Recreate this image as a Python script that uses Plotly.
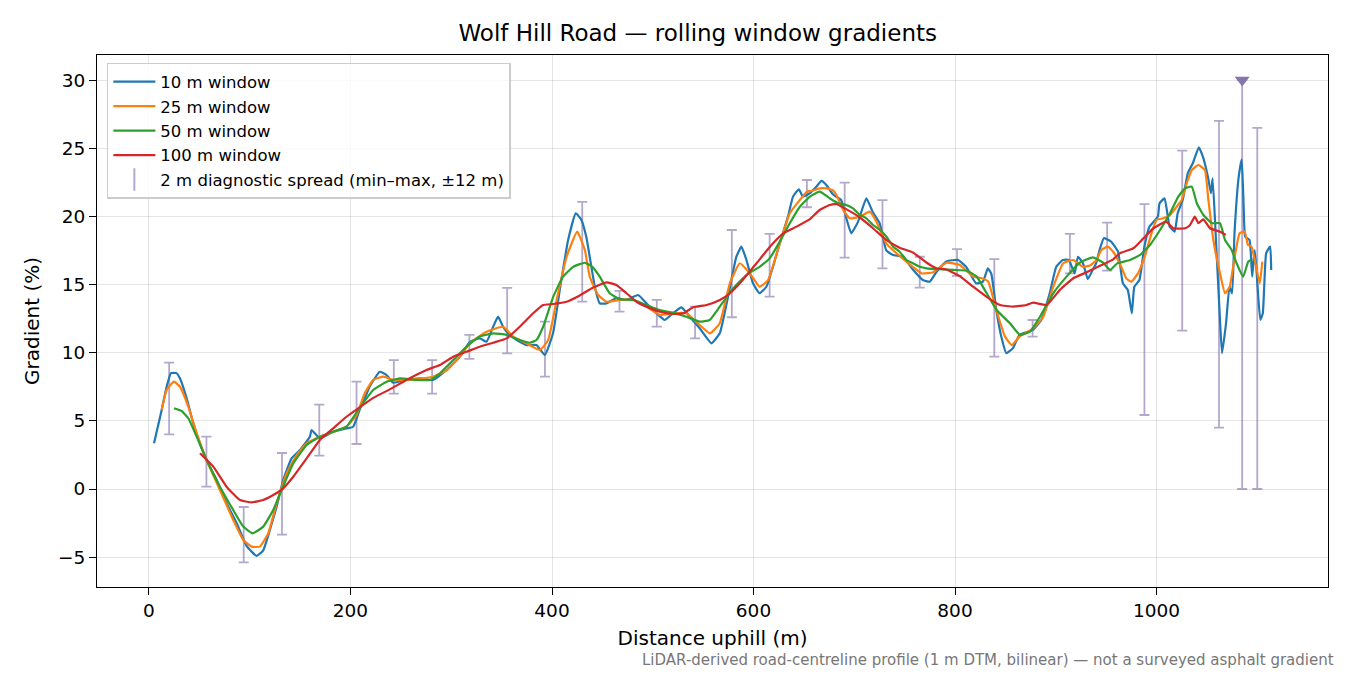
import plotly.graph_objects as go

# distance uphill (m) and gradient (%) for each rolling window
w10_x = [5, 12.6, 17.5, 21.8, 27.4, 30.8, 37.4, 44, 50.6, 57.2, 67.2, 77, 87, 97, 106.8, 113.4, 120,
         126.7, 133.2, 141.5, 149.8, 159.7, 161.4, 169.6, 182.8, 196, 202.7, 210, 215, 219, 229, 235.8,
         242.4, 255.6, 268.8, 282, 295.3, 308.5, 318.5, 328.4, 335, 341.6, 346.5, 351.5, 358, 368, 374.7,
         384.6, 392.9, 401, 407.7, 416, 423.6, 429.2, 434, 442.5, 447.4, 454, 464, 474, 485.4, 493.7,
         503.7, 511.9, 520, 528.5, 536.7, 546.6, 558.2, 566.5, 574.7, 583, 588, 593, 599.5, 606, 612.8,
         619.3, 626, 634.2, 639.2, 645, 649, 656, 662.4, 667.4, 672.3, 679, 687, 692, 697, 703.7, 712,
         718.5, 725.2, 731.8, 738.4, 748.3, 758.2, 768, 774.8, 781.4, 791.4, 803, 811, 821, 827.7, 832.6,
         836, 841, 845.9, 850.9, 857.4, 864, 877.3, 885.6, 894, 900.5, 907, 913, 918.7, 922, 927, 931.8,
         936.6, 940, 943.5, 947.7, 955, 961.8, 966.6, 971.5, 975.5, 978, 983, 988, 993, 1001.3, 1003,
         1008, 1013, 1018, 1021, 1026, 1031, 1036, 1042, 1046, 1051, 1054, 1055.7, 1059, 1062.5, 1065,
         1069, 1072.4, 1075, 1077.4, 1081.6, 1084.6, 1086.6, 1088, 1092.3, 1095, 1097.4, 1099, 1103,
         1105.5, 1108.8, 1112.8, 1113.8]
w10_y = [3.35, 5.8, 7.5, 8.5, 8.5, 8.1, 6.65, 4.8, 3.35, 2.1, 0.66, -1.05, -2.5, -4.2, -4.9, -4.5, -3.0,
         -1.3, 0.66, 2.25, 2.86, 3.84, 4.33, 3.72, 4.2, 4.45, 4.57, 6.0, 6.8, 7.5, 8.6, 8.36,
         7.8, 8.0, 8.12, 8.0, 8.73, 9.71, 10.8, 11.05, 10.8, 11.9, 12.64, 11.9, 11.3, 10.8, 10.56,
         10.56, 9.83, 11.42, 14.6, 18.27, 20.23, 19.74, 18.5, 14.84, 13.62, 13.62, 14.0, 13.87, 14.23, 13.62,
         12.89, 12.4, 12.89, 13.33, 12.64, 11.79, 10.69, 11.42, 14.1, 17.04, 17.78, 16.8, 15.09, 14.36, 14.84,
         16.3, 18.0, 19.98, 21.45, 21.99, 21.45, 21.7, 22.18, 22.6, 22.3, 21.6, 21.2, 19.9, 18.76, 19.6, 21.33,
         20.3, 19.5, 17.5, 17.17, 17.04, 16.1, 15.33, 15.21, 15.9, 16.7, 16.8, 16.3, 15.09, 15.21, 16.19,
         15.8, 13.13, 11.18, 9.96, 10.32, 11.3, 11.67, 12.4, 14.36, 16.3, 16.8, 16.8, 15.82, 17.04, 16.56, 15.4,
         16.07, 16.56, 17.53, 18.4, 18.14, 17.41, 15.09, 14.6, 12.89, 14.84, 15.33, 17.78, 19.25, 19.98, 20.96,
         21.33, 19.25, 18.88, 20.23, 21.2, 23.16, 23.9, 25.07, 24.38, 22.91, 21.7, 22.79, 18.27, 13.13, 9.96,
         12.16, 14.84, 14.36, 18.76, 22.91, 24.19, 20.47, 18.51, 18.27, 15.58, 17.53, 16.3, 12.4,
         12.89, 17.29, 17.78, 16.07]

w25_x = [12.6, 17.5, 24.8, 30.8, 39, 47.3, 57.2, 70.4, 83.6, 93.6, 101.9, 110, 118.4, 126.7, 136.6, 146.6,
         156.5, 169.7, 182.9, 196, 206, 214, 222.6, 232.6, 242.4, 255.6, 268.8, 282, 295.3, 308.5, 318.5,
         335, 351.5, 361.6, 374.7, 388, 396.2, 404.6, 414.5, 425, 432.6, 437.5, 445.8, 454, 467.3, 480.5,
         493.7, 507, 520, 533.4, 546.6, 556.8, 566.5, 576.5, 586.4, 596.3, 606, 614.5, 626, 636, 646, 653,
         659, 665.7, 672.3, 679, 682.3, 689, 695.6, 705.6, 715.5, 722, 731.8, 745, 758.2, 766.7, 778.5,
         791.4, 804.8, 818, 826.5, 833, 841, 849.6, 856.3, 864, 877.5, 887.6, 897.5, 907.4, 917.4, 927, 934,
         940.5, 945.2, 951.8, 957.5, 965, 970, 975, 981.6, 988.3, 995, 1000, 1006.6, 1013.4, 1020, 1025,
         1030, 1035, 1041.6, 1048, 1051.5, 1056.4, 1063, 1068, 1072.6, 1077.6, 1082.5, 1087.5, 1090.8,
         1094.2, 1097.5, 1102.5, 1105]
w25_y = [5.8, 7.26, 7.87, 7.5, 6.04, 4.09, 2.13, -0.07, -2.27, -3.74, -4.23, -4.23, -3.25, -1.05, 1.15, 2.49,
         3.35, 3.84, 4.2, 4.57, 5.43, 7.0, 8.0, 8.24, 8.0, 8.0, 8.1, 8.24, 8.7, 9.7, 10.69,
         11.54, 11.9, 11.18, 10.69, 10.2, 10.93, 13.87, 17.04, 18.88, 17.53, 15.58, 14.23, 13.74, 13.87, 13.87,
         13.38, 12.77, 12.89, 12.89, 12.03, 11.42, 12.16, 15.09, 16.56, 15.82, 14.84, 15.33, 18.0, 20.23, 21.2, 21.81,
         21.9, 22.06, 22.06, 21.9, 21.57, 20.47, 19.86, 19.98, 20.35, 19.61, 18.0, 17.1, 16.3, 15.82, 15.9,
         16.6, 16.43, 15.58, 15.46, 15.21, 13.13, 11.18, 10.56, 11.18, 11.79, 12.64, 14.84, 16.56, 16.8, 16.3, 16.4,
         16.8, 17.53, 17.78, 17.35, 16.3, 15.45, 15.21, 15.82, 17.04, 18.76, 19.74, 19.86, 20.1, 20.71, 21.2,
         22.43, 23.4, 23.77, 23.4, 21.2, 18.27, 15.82, 14.36, 14.84, 17.04, 18.76, 18.88, 17.9,
         17.78, 16.8, 15.09, 16.68]

w50_x = [24.8, 32.4, 39, 47.3, 57.2, 70.4, 83.6, 93.6, 102.8, 113.4, 123.3, 131.6, 143.2, 156.5, 169.7,
         182.8, 196, 207.7, 222.5, 236, 249, 265.7, 279, 288.8, 302, 315.3, 328.5, 341.6, 355, 368, 378,
         384.6, 391.2, 401.2, 411, 421, 432.6, 440, 447.4, 457.3, 467.3, 480.6, 493.7, 507, 520, 533.4,
         546.6, 556.5, 566.5, 579.7, 593, 606, 616, 626, 636, 646, 656, 665.7, 675.6, 684, 692, 698.7,
         705.6, 712, 718.6, 725.5, 732, 738.5, 745, 751.8, 758.2, 765, 771.8, 785, 798.4, 811.6, 821.5,
         831.4, 841.3, 854.5, 864.5, 874.4, 884.3, 897.5, 910.7, 923.8, 937, 947, 954, 961, 973.7, 983.6,
         993.5, 1003.5, 1013.4, 1021.6, 1028.3, 1035, 1040, 1046.5, 1054.9, 1063, 1068, 1074.6, 1079.5,
         1086, 1091, 1093.5]
w50_y = [5.92, 5.72, 5.19, 3.84, 2.13, 0.17, -1.54, -2.76, -3.25, -2.76, -1.54, -0.07, 1.88, 3.23, 3.84,
         4.2, 4.57, 5.8, 7.26, 7.87, 8.12, 8.0, 8.0, 8.49, 9.46, 10.44, 11.18, 11.42, 11.3, 10.93, 10.73,
         10.93, 11.9, 14.1, 15.58, 16.3, 16.6, 16.3, 15.58, 14.36, 13.92, 13.87, 13.5, 13.13, 12.94, 12.64,
         12.28, 12.4, 13.38, 14.72, 15.7, 16.3, 16.92, 18.14, 19.5, 20.71, 21.45, 21.81, 21.33, 20.96, 20.84, 20.59,
         20.1, 19.86, 19.37, 19.0, 18.51, 17.78, 17.41, 16.8, 16.56, 16.3, 16.19, 16.12, 16.07, 16.02, 15.58,
         14.36, 13.13, 12.16, 11.3, 11.54, 12.64, 14.36, 15.58, 16.6, 17.0, 16.6, 16.07, 16.55, 16.8, 17.17,
         17.9, 19.0, 20.23, 21.45, 22.06, 22.18, 20.96, 20.1, 19.5, 19.5, 18.27, 17.53, 16.56,
         15.58, 16.68, 16.8]

w100_x = [50.6, 63.8, 77, 90.3, 101.9, 113.4, 123.3, 131.6, 143.2, 156.5, 169.6, 182.8, 196, 207.7, 223,
          239, 255.6, 275.5, 288.8, 302, 315.3, 328.4, 341.6, 355, 368, 381.3, 391.2, 401, 414.4, 427.6,
          440.8, 454, 464, 474, 483.8, 493.7, 507, 520, 530.3, 540.2, 553.5, 566.6, 576.7, 586.4, 603,
          616.3, 629.5, 642.7, 656, 665.7, 675.6, 682.4, 692, 705.6, 718.6, 731.8, 745, 758.2, 771.6, 781.4,
          791.4, 805, 818, 831.4, 844.7, 857.9, 871, 877.5, 891, 904, 917.4, 930.6, 943.9, 957, 963.5, 977,
          987, 997, 1009.4, 1016.7, 1028.3, 1033.3, 1038, 1041.6, 1046.5, 1053, 1063, 1068.8]
w100_y = [2.62, 1.64, 0.17, -0.81, -0.98, -0.81, -0.44, -0.07, 0.9, 2.25, 3.6, 4.45, 5.3, 5.92, 6.7,
          7.31, 8.0, 8.73, 9.1, 9.71, 10.07, 10.44, 10.73, 11.05, 11.9, 12.89, 13.5, 13.57, 13.74, 14.2,
          14.78, 15.16, 14.97, 14.36, 13.74, 13.38, 13.01, 12.84, 12.89, 13.33, 13.5, 13.87, 14.36, 15.09, 16.56,
          17.78, 18.76, 19.25, 19.8, 20.47, 20.84, 20.89, 20.53, 19.92, 19.13, 18.27, 17.7, 17.35, 16.62, 16.19,
          16.1, 15.6, 14.84, 14.1, 13.5, 13.38, 13.5, 13.67, 13.5, 14.6, 15.46, 15.9, 16.37, 16.85, 17.29, 17.66,
          18.39, 19.13, 19.61, 19.13, 19.13, 19.37, 19.98, 19.5, 19.79, 19.13, 18.88, 18.64]

# 2 m diagnostic spread, min and max within +-12 m
spread_x = [20, 57, 94, 132, 169, 206, 243, 281, 318, 355.5, 393, 430, 467, 504, 542, 578.5, 616, 653,
            690.5, 728, 765, 802, 839, 877, 914, 951, 988, 1025.5, 1062, 1085, 1100]
spread_lo = [4.0, 0.17, -5.38, -3.35, 2.45, 3.3, 7.0, 7.0, 9.55, 9.95, 8.24, 13.74, 13.01, 11.91, 11.05,
             12.6, 14.11, 20.67, 16.97, 16.19, 14.77, 15.63, 9.71, 11.18, 15.82, 16.02, 5.43, 11.62, 4.5,
             0.0, 0.0]
spread_hi = [9.27, 3.84, -1.32, 2.64, 6.19, 7.87, 9.46, 9.46, 11.3, 14.75, 12.28, 21.06, 14.53, 13.87,
             13.38, 19.0, 18.71, 22.67, 22.48, 21.2, 17.04, 17.6, 16.87, 12.4, 18.71, 19.54, 20.9, 24.82,
             27.0, 30.0, 26.5]
clip_top = 30.0

series = [
    ("10 m window", w10_x, w10_y, "#1f77b4"),
    ("25 m window", w25_x, w25_y, "#ff7f0e"),
    ("50 m window", w50_x, w50_y, "#2ca02c"),
    ("100 m window", w100_x, w100_y, "#d62728"),
]

spread_col = "rgba(128,110,170,0.6)"

fig = go.Figure()

mid = [(a + b) / 2 for a, b in zip(spread_lo, spread_hi)]
fig.add_trace(go.Scatter(
    x=spread_x, y=mid, mode="markers", showlegend=False, hoverinfo="skip",
    marker=dict(size=1, color="rgba(0,0,0,0)"),
    error_y=dict(type="data", symmetric=False,
                 array=[h - m for h, m in zip(spread_hi, mid)],
                 arrayminus=[m - l for m, l in zip(mid, spread_lo)],
                 color=spread_col, thickness=1.8, width=5),
))

for name, xs, ys, col in series:
    fig.add_trace(go.Scatter(x=xs, y=ys, mode="lines", name=name,
                             line=dict(color=col, width=2.2, shape="spline", smoothing=0.4)))

# legend entry for the spread bars
fig.add_trace(go.Scatter(
    x=[None], y=[None], mode="markers", name="2 m diagnostic spread (min\u2013max, \u00b112 m)",
    marker=dict(symbol="line-ns-open", size=16, color=spread_col,
                line=dict(color=spread_col, width=2)),
))

# clipped spread marker
cx = [x for x, h in zip(spread_x, spread_hi) if h >= clip_top]
fig.add_trace(go.Scatter(
    x=cx, y=[clip_top] * len(cx), mode="markers", showlegend=False,
    marker=dict(symbol="triangle-down", size=13, color="#8576ab"),
))

axis_common = dict(showline=True, linecolor="black", linewidth=1.2, mirror=True,
                   ticks="outside", ticklen=7, tickcolor="black", tickwidth=1.2,
                   showgrid=True, gridcolor="rgba(0,0,0,0.1)", gridwidth=1,
                   zeroline=False, tickfont=dict(size=18.5, color="black"))

fig.update_layout(
    width=1342, height=667,
    paper_bgcolor="white", plot_bgcolor="white",
    font=dict(family="DejaVu Sans", color="black"),
    margin=dict(l=89, r=22, t=47, b=88),
    title=dict(text="Wolf Hill Road \u2014 rolling window gradients", xref="paper", x=0.488,
               xanchor="center", y=0.9625, yanchor="middle", font=dict(size=23)),
    xaxis=dict(range=[-51.6, 1170.2], tickvals=[0, 200, 400, 600, 800, 1000],
               title=dict(text="Distance uphill (m)", font=dict(size=20), standoff=10), **axis_common),
    yaxis=dict(range=[-7.19, 31.84], tickvals=[-5, 0, 5, 10, 15, 20, 25, 30],
               title=dict(text="Gradient (%)", font=dict(size=20), standoff=12), **axis_common),
    legend=dict(x=0.008, y=0.985, xanchor="left", yanchor="top",
                bgcolor="rgba(255,255,255,0.8)", bordercolor="#cccccc", borderwidth=1.5,
                font=dict(size=16.5), tracegroupgap=0, itemwidth=42),
    showlegend=True,
)

fig.add_annotation(
    text="LiDAR-derived road-centreline profile (1 m DTM, bilinear) \u2014 not a surveyed asphalt gradient",
    xref="paper", yref="paper", x=1.0065, y=-0.137, xanchor="right", yanchor="middle",
    showarrow=False, font=dict(size=15, color="#777777"),
)

fig.write_html("out.html")
